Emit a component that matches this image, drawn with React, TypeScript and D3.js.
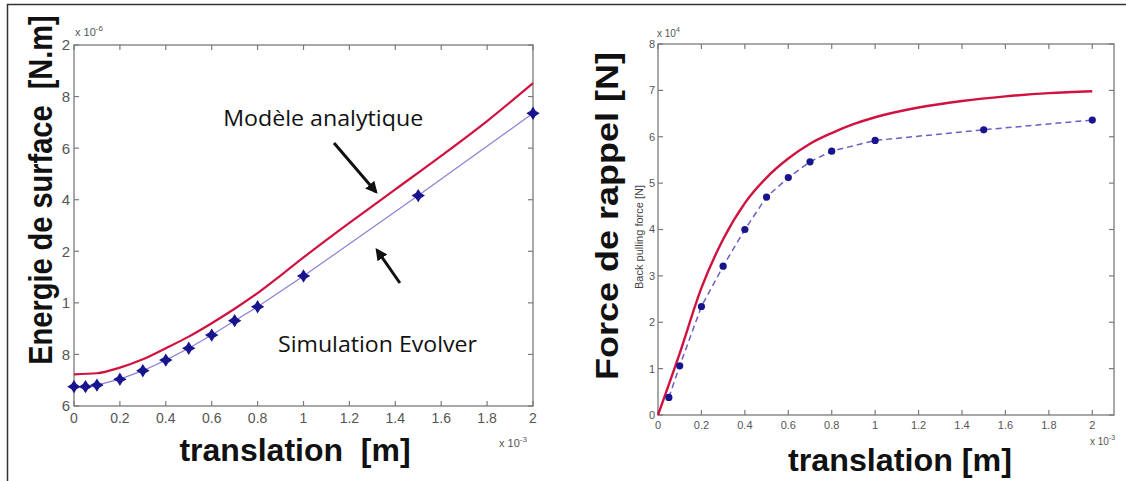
import React from "react";
import * as d3 from "d3";

// ---------- data ----------
const energyModelX = [0, 0.1, 0.2, 0.3, 0.4, 0.5, 0.6, 0.7, 0.8, 0.9, 1.0, 1.2, 1.4, 1.6, 1.8, 2.0];
const energyModel = [0.723, 0.727, 0.749, 0.781, 0.824, 0.869, 0.921, 0.977, 1.038, 1.106, 1.176, 1.31, 1.44, 1.57, 1.705, 1.852];
const energySimX = [0, 0.05, 0.1, 0.2, 0.3, 0.4, 0.5, 0.6, 0.7, 0.8, 1.0, 1.5, 2.0];
const energySim = [0.675, 0.675, 0.681, 0.704, 0.737, 0.778, 0.824, 0.875, 0.931, 0.985, 1.104, 1.416, 1.735];

const forceModelX = [0, 0.1, 0.2, 0.3, 0.4, 0.5, 0.6, 0.7, 0.8, 0.9, 1.0, 1.2, 1.4, 1.6, 1.8, 2.0];
const forceModel = [0, 1.33, 2.74, 3.79, 4.57, 5.12, 5.53, 5.85, 6.08, 6.27, 6.42, 6.63, 6.77, 6.87, 6.94, 6.98];
const forceSimX = [0.05, 0.1, 0.2, 0.3, 0.4, 0.5, 0.6, 0.7, 0.8, 1.0, 1.5, 2.0];
const forceSim = [0.38, 1.06, 2.34, 3.21, 4.0, 4.7, 5.12, 5.46, 5.69, 5.92, 6.15, 6.36];

const xTickValues = [0, 0.2, 0.4, 0.6, 0.8, 1, 1.2, 1.4, 1.6, 1.8, 2];
const xTickLabels = ["0", "0.2", "0.4", "0.6", "0.8", "1", "1.2", "1.4", "1.6", "1.8", "2"];
const leftYTickValues = [0.6, 0.8, 1.0, 1.2, 1.4, 1.6, 1.8, 2.0];
const leftYTickLabels = ["6", "8", "1", "2", "4", "6", "8", "2"];
const rightYTickValues = [0, 1, 2, 3, 4, 5, 6, 7, 8];
const rightYTickLabels = ["0", "1", "2", "3", "4", "5", "6", "7", "8"];

// ---------- styles ----------
const RED = "#cf1240";
const AXIS = "#7a7a7a";
const TICKTXT = "#555";
const NAVY = "#17148e";

const star4: d3.SymbolType = {
  draw(context: any, size: number) {
    const r = Math.sqrt(size) * 0.75;
    const k = r * 0.38;
    context.moveTo(0, -r);
    context.lineTo(k, -k);
    context.lineTo(r, 0);
    context.lineTo(k, k);
    context.lineTo(0, r);
    context.lineTo(-k, k);
    context.lineTo(-r, 0);
    context.lineTo(-k, -k);
    context.closePath();
  },
};

function Frame({ x, y, ticksX, ticksY, xLabels, yLabels, xFont, yFont, xLabelDy, yLabelDx }: any) {
  const [x0, x1] = x.range();
  const [y0, y1] = y.range();
  const tl = 5;
  return (
    <g>
      <rect x={x0} y={y1} width={x1 - x0} height={y0 - y1} fill="none" stroke={AXIS} strokeWidth={1.3} />
      {ticksX.map((t: number, i: number) => (
        <g key={"tx" + i}>
          <line x1={x(t)} x2={x(t)} y1={y0} y2={y0 - tl} stroke={AXIS} strokeWidth={1.2} />
          <line x1={x(t)} x2={x(t)} y1={y1} y2={y1 + tl} stroke={AXIS} strokeWidth={1.2} />
          <text x={x(t)} y={y0 + xLabelDy} textAnchor="middle" fontSize={xFont} fill={TICKTXT} fontFamily="Liberation Sans, Arial, sans-serif">
            {xLabels[i]}
          </text>
        </g>
      ))}
      {ticksY.map((t: number, i: number) => (
        <g key={"ty" + i}>
          <line x1={x0} x2={x0 + tl} y1={y(t)} y2={y(t)} stroke={AXIS} strokeWidth={1.2} />
          <line x1={x1} x2={x1 - tl} y1={y(t)} y2={y(t)} stroke={AXIS} strokeWidth={1.2} />
          <text x={x0 - yLabelDx} y={y(t)} dy="0.36em" textAnchor="end" fontSize={yFont} fill={TICKTXT} fontFamily="Liberation Sans, Arial, sans-serif">
            {yLabels[i]}
          </text>
        </g>
      ))}
    </g>
  );
}

export default function App() {
  // left panel scales
  const xL = d3.scaleLinear().domain([0, 2]).range([74, 533]);
  const yL = d3.scaleLinear().domain([0.6, 2.0]).range([406, 45]);
  // right panel scales
  const xR = d3.scaleLinear().domain([0, 2.1]).range([658, 1114]);
  const yR = d3.scaleLinear().domain([0, 8]).range([415, 44]);

  const lineModelL = d3
    .line<number>()
    .x((_, i) => xL(energyModelX[i]))
    .y((d) => yL(d))
    .curve(d3.curveMonotoneX)(energyModel) as string;
  const lineSimL = d3
    .line<number>()
    .x((_, i) => xL(energySimX[i]))
    .y((d) => yL(d))(energySim) as string;
  const lineModelR = d3
    .line<number>()
    .x((_, i) => xR(forceModelX[i]))
    .y((d) => yR(d))
    .curve(d3.curveMonotoneX)(forceModel) as string;
  const lineSimR = d3
    .line<number>()
    .x((_, i) => xR(forceSimX[i]))
    .y((d) => yR(d))(forceSim) as string;

  const starPath = d3.symbol().type(star4).size(80)() as string;

  const font = "Liberation Sans, Arial, Helvetica, sans-serif";
  const annFont = "Open Sans, Noto Sans, sans-serif";
  const pre = { whiteSpace: "pre" } as React.CSSProperties;

  return (
    <svg width={1126} height={481} style={{ position: "absolute", left: 0, top: 0, background: "#fff" }}>
      <defs>
        <marker id="ah" viewBox="0 0 10 10" refX="8" refY="5" markerWidth="4" markerHeight="4" orient="auto">
          <path d="M0,0 L10,5 L0,10 z" fill="#111" />
        </marker>
      </defs>
      <rect x={0} y={0} width={1126} height={481} fill="#fff" />
      <rect x={7.5} y={4.5} width={1130} height={490} fill="none" stroke="#333" strokeWidth={1.5} />

      {/* ---------- Left panel ---------- */}
      <Frame x={xL} y={yL} ticksX={xTickValues} ticksY={leftYTickValues} xLabels={xTickLabels} yLabels={leftYTickLabels} xFont={14} yFont={15} xLabelDy={17} yLabelDx={4} />
      <path d={lineModelL} fill="none" stroke={RED} strokeWidth={2.2} />
      <path d={lineSimL} fill="none" stroke="#8b80d4" strokeWidth={1.2} />
      {energySim.map((v, i) => (
        <path key={"ms" + i} d={starPath} transform={`translate(${xL(energySimX[i])},${yL(v)})`} fill={NAVY} />
      ))}
      <text x={75} y={36} fontSize={11} fill={TICKTXT} fontFamily={font}>
        x 10<tspan dy={-5} fontSize={8}>-6</tspan>
      </text>
      <text x={499} y={447} fontSize={11} fill={TICKTXT} fontFamily={font}>
        x 10<tspan dy={-5} fontSize={8}>-3</tspan>
      </text>
      <text transform="translate(52,190) rotate(-90) scale(1,1.14)" textAnchor="middle" fontSize={29} fontWeight="bold" fill="#111" fontFamily={font} style={pre}>
        {"Energie de surface  [N.m]"}
      </text>
      <text x={295} y={461} textAnchor="middle" fontSize={32} fontWeight="bold" fill="#111" fontFamily={font} style={pre}>
        {"translation  [m]"}
      </text>
      {/* annotations */}
      <text x={xL(0.65)} y={yL(1.685)} fontSize={21} fill="#111" fontFamily={annFont} textLength={200} lengthAdjust="spacingAndGlyphs">
        Modèle analytique
      </text>
      <text x={xL(0.889)} y={yL(0.811)} fontSize={21} fill="#111" fontFamily={annFont} textLength={199} lengthAdjust="spacingAndGlyphs">
        Simulation Evolver
      </text>
      <line x1={xL(1.133)} y1={yL(1.62)} x2={xL(1.316)} y2={yL(1.43)} stroke="#111" strokeWidth={3} markerEnd="url(#ah)" />
      <line x1={xL(1.42)} y1={yL(1.077)} x2={xL(1.32)} y2={yL(1.205)} stroke="#111" strokeWidth={3} markerEnd="url(#ah)" />

      {/* ---------- Right panel ---------- */}
      <Frame x={xR} y={yR} ticksX={xTickValues} ticksY={rightYTickValues} xLabels={xTickLabels} yLabels={rightYTickLabels} xFont={11} yFont={11} xLabelDy={14} yLabelDx={3} />
      <path d={lineSimR} fill="none" stroke="#6a5fc4" strokeWidth={1.5} strokeDasharray="6,4" />
      <path d={lineModelR} fill="none" stroke={RED} strokeWidth={2.4} />
      {forceSim.map((v, i) => (
        <circle key={"fs" + i} cx={xR(forceSimX[i])} cy={yR(v)} r={3.6} fill={NAVY} />
      ))}
      <text x={657} y={37} fontSize={10} fill={TICKTXT} fontFamily={font}>
        x 10<tspan dy={-5} fontSize={7}>4</tspan>
      </text>
      <text x={1090} y={445} fontSize={10} fill={TICKTXT} fontFamily={font}>
        x 10<tspan dy={-5} fontSize={7}>-3</tspan>
      </text>
      <text transform="translate(643,237) rotate(-90)" textAnchor="middle" fontSize={11} fill="#444" fontFamily={font}>
        Back pulling force [N]
      </text>
      <text transform="translate(618,216) rotate(-90)" textAnchor="middle" fontSize={32} fontWeight="bold" fill="#111" fontFamily={font} textLength={328} lengthAdjust="spacingAndGlyphs">
        Force de rappel [N]
      </text>
      <text x={900} y={471} textAnchor="middle" fontSize={32} fontWeight="bold" fill="#111" fontFamily={font} textLength={224} lengthAdjust="spacingAndGlyphs">
        translation [m]
      </text>
    </svg>
  );
}
